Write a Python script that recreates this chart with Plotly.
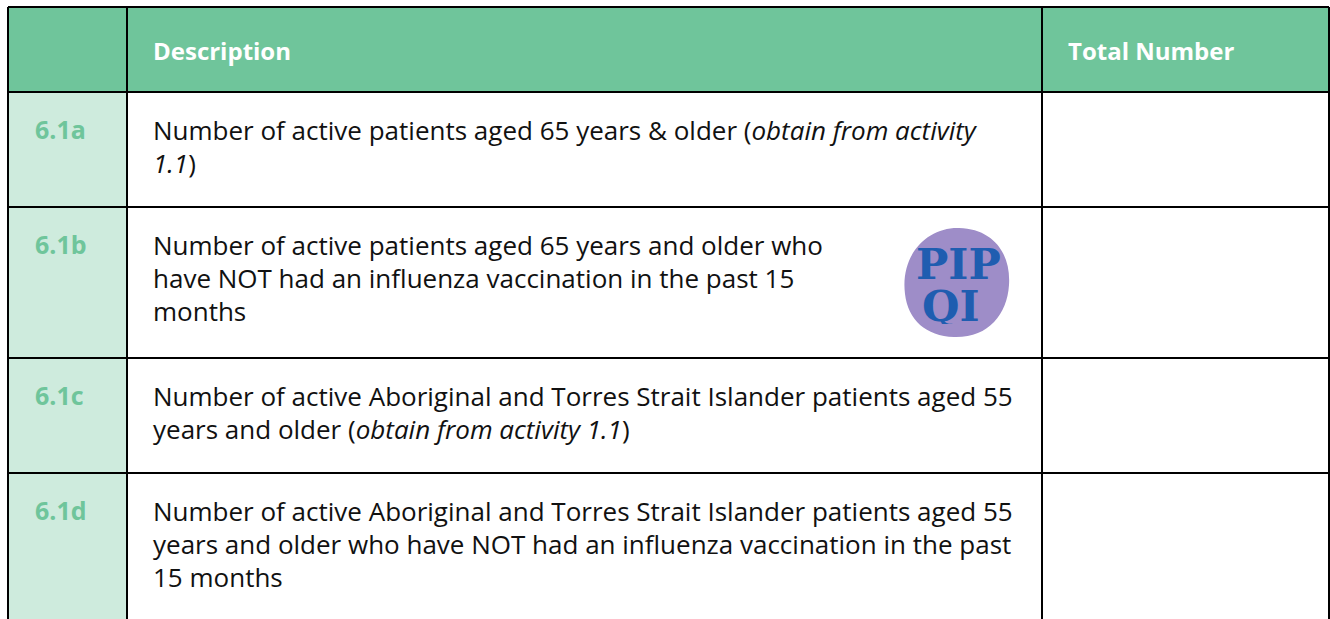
import plotly.graph_objects as go

# ---------------- data ----------------
header_labels = ["", "Description", "Total Number"]
row_ids = ["6.1a", "6.1b", "6.1c", "6.1d"]
description_lines = [
    ["Number of active patients aged 65 years & older (<i>obtain from activity</i>",
     "<i>1.1</i>)"],
    ["Number of active patients aged 65 years and older who",
     "have NOT had an influenza vaccination in the past 15",
     "months"],
    ["Number of active Aboriginal and Torres Strait Islander patients aged 55",
     "years and older (<i>obtain from activity 1.1</i>)"],
    ["Number of active Aboriginal and Torres Strait Islander patients aged 55",
     "years and older who have NOT had an influenza vaccination in the past",
     "15 months"],
]
total_numbers = ["", "", "", ""]
logo_lines = ["PIP", "QI"]

# ---------------- layout constants ----------------
W, H = 1330, 619
col_edges = [8, 127, 1042, 1329]
row_edges = [7, 92, 207, 358, 473, 660]
HEADER_BG = "#6FC59B"
ID_BG = "#CEEBDD"
ID_FG = "#6FC59B"
BORDER = "#000000"
FONT = "Open Sans"
TEXT_SIZE = 26
LINE_GAP = 33
FIRST_LINE = 38

shapes = []
annotations = []

# header fill
shapes.append(dict(type="rect", x0=col_edges[0], x1=col_edges[-1], y0=row_edges[0], y1=row_edges[1],
                   fillcolor=HEADER_BG, line_width=0, layer="below"))
# id column fill
shapes.append(dict(type="rect", x0=col_edges[0], x1=col_edges[1], y0=row_edges[1], y1=row_edges[-1],
                   fillcolor=ID_BG, line_width=0, layer="below"))
# borders
for x in col_edges:
    shapes.append(dict(type="line", x0=x, x1=x, y0=row_edges[0], y1=row_edges[-1],
                       line=dict(color=BORDER, width=2)))
for y in row_edges[:-1]:
    shapes.append(dict(type="line", x0=col_edges[0], x1=col_edges[-1], y0=y, y1=y,
                       line=dict(color=BORDER, width=2)))

# header texts
header_y = (row_edges[0] + row_edges[1]) / 2 + 1
for i, lab in enumerate(header_labels):
    if lab:
        annotations.append(dict(x=col_edges[i] + 24, y=header_y, text="<b>" + lab + "</b>",
                                xanchor="left", yanchor="middle", showarrow=False,
                                font=dict(family=FONT, size=24, color="white")))

# rows
for r, rid in enumerate(row_ids):
    top = row_edges[r + 1]
    annotations.append(dict(x=col_edges[0] + 25, y=top + FIRST_LINE - 1,
                            text="<b>" + rid + "</b>", xanchor="left", yanchor="middle",
                            showarrow=False, font=dict(family=FONT, size=25, color=ID_FG)))
    for k, line in enumerate(description_lines[r]):
        annotations.append(dict(x=col_edges[1] + 24, y=top + FIRST_LINE + k * LINE_GAP,
                                text=line, xanchor="left", yanchor="middle", showarrow=False,
                                font=dict(family=FONT, size=TEXT_SIZE, color="#111111")))
    if total_numbers[r]:
        annotations.append(dict(x=col_edges[2] + 24, y=top + FIRST_LINE, text=total_numbers[r],
                                xanchor="left", yanchor="middle", showarrow=False,
                                font=dict(family=FONT, size=TEXT_SIZE, color="#111111")))

# PIP QI logo (blob + text)
cx, cy = 956, 282
blob = (f"M {cx-51},{cy+12} C {cx-56},{cy-28} {cx-28},{cy-55} {cx+3},{cy-54} "
        f"C {cx+38},{cy-53} {cx+55},{cy-28} {cx+53},{cy+3} "
        f"C {cx+51},{cy+33} {cx+32},{cy+56} {cx-2},{cy+55} "
        f"C {cx-30},{cy+54} {cx-48},{cy+38} {cx-51},{cy+12} Z")
shapes.append(dict(type="path", path=blob, fillcolor="#9E8DC8", line_width=0, layer="below"))
for k, t in enumerate(logo_lines):
    annotations.append(dict(x=cx + (2 if k == 0 else -5), y=cy - 18 + k * 42, text="<b>" + t + "</b>",
                            xanchor="center", yanchor="middle", showarrow=False, height=36,
                            valign="middle",
                            font=dict(family="DejaVu Serif", size=43, color="#1F5DB0")))

fig = go.Figure()
fig.update_layout(
    width=W, height=H,
    margin=dict(l=0, r=0, t=0, b=0),
    paper_bgcolor="white", plot_bgcolor="white",
    xaxis=dict(range=[0, W], visible=False, fixedrange=True),
    yaxis=dict(range=[H, 0], visible=False, fixedrange=True),
    shapes=shapes, annotations=annotations,
    showlegend=False,
)
fig.write_html("out.html", config={"displayModeBar": False},
               post_script="document.body.style.margin='0';document.body.style.overflow='hidden';")
